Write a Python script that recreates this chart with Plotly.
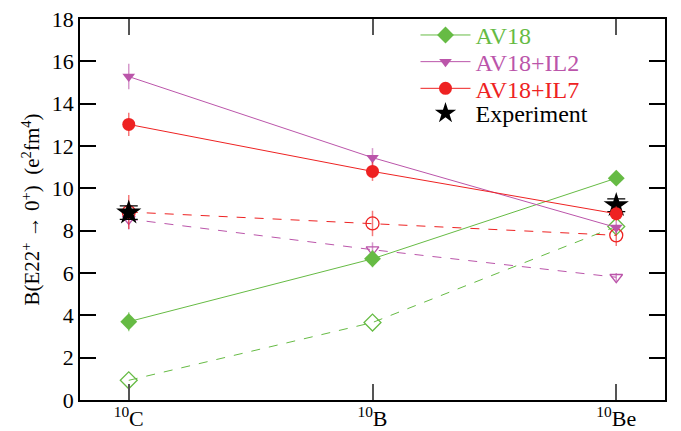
import plotly.graph_objects as go

nuclei = ["<sup>10</sup>C", "<sup>10</sup>B", "<sup>10</sup>Be"]
xpos = [0, 1, 2]

av18 = [3.7, 6.67, 10.48]
av18_err = [0.45, 0.4, 0.3]
av18_d = [0.93, 3.66, 8.2]

il2 = [15.28, 11.45, 8.15]
il2_err = [0.6, 0.45, 0.3]
il2_d = [8.55, 7.1, 5.8]
il2_d_err = [0.5, 0.35, 0.2]

il7 = [13.02, 10.8, 8.8]
il7_err = [0.55, 0.45, 0.35]
il7_d = [8.88, 8.34, 7.78]
il7_d_err = [0.8, 0.6, 0.5]

exp_x = [0, 2]
exp_y = [8.85, 9.2]
exp_err = [0.32, 0.3]

GREEN = "#66bb44"
PURPLE = "#bb55aa"
RED = "#ee2222"

fig = go.Figure()

def err(vals, color):
    return dict(type="data", array=vals, visible=True, color=color, thickness=1.5, width=0)

# dashed (hollow) series
fig.add_trace(go.Scatter(x=xpos, y=av18_d, mode="lines+markers", showlegend=False,
    line=dict(color=GREEN, width=1, dash="dash"),
    marker=dict(symbol="diamond-open", size=13, color=GREEN, line=dict(width=1.3))))
fig.add_trace(go.Scatter(x=xpos, y=il2_d, mode="lines+markers", showlegend=False,
    line=dict(color=PURPLE, width=1, dash="dash"),
    error_y=err(il2_d_err, "rgba(187,85,170,0.6)"),
    marker=dict(symbol="triangle-down-open", size=11, color=PURPLE, line=dict(width=1.3))))
fig.add_trace(go.Scatter(x=xpos, y=il7_d, mode="lines+markers", showlegend=False,
    line=dict(color=RED, width=1, dash="dash"),
    error_y=err(il7_d_err, "rgba(238,34,34,0.6)"),
    marker=dict(symbol="circle-open", size=13, color=RED, line=dict(width=1.3))))

# experiment
fig.add_trace(go.Scatter(x=exp_x, y=exp_y, mode="markers", name="Experiment", legend="legend4",
    error_y=dict(type="data", array=exp_err, visible=True, color="black", thickness=1.2, width=9),
    marker=dict(symbol="star", size=19, color="black")))

# solid series
fig.add_trace(go.Scatter(x=xpos, y=av18, mode="lines+markers",
    name="<span style='color:#66bb44'>AV18</span>", legend="legend",
    line=dict(color=GREEN, width=1),
    error_y=err(av18_err, "rgba(102,187,68,0.6)"),
    marker=dict(symbol="diamond", size=13, color=GREEN)))
fig.add_trace(go.Scatter(x=xpos, y=il2, mode="lines+markers",
    name="<span style='color:#bb55aa'>AV18+IL2</span>", legend="legend2",
    line=dict(color=PURPLE, width=1),
    error_y=err(il2_err, "rgba(187,85,170,0.6)"),
    marker=dict(symbol="triangle-down", size=11, color=PURPLE)))
fig.add_trace(go.Scatter(x=xpos, y=il7, mode="lines+markers",
    name="<span style='color:#ee2222'>AV18+IL7</span>", legend="legend3",
    line=dict(color=RED, width=1),
    error_y=err(il7_err, "rgba(238,34,34,0.6)"),
    marker=dict(symbol="circle", size=13, color=RED)))

FONT = "Liberation Serif, Times New Roman, serif"

def leg(yc):
    return dict(x=0.5735, y=yc, xanchor="left", yanchor="middle",
                bgcolor="rgba(0,0,0,0)", font=dict(size=24, family=FONT),
                itemwidth=50)

fig.update_layout(
    width=681, height=431,
    margin=dict(l=72, r=24, t=5, b=39),
    paper_bgcolor="white", plot_bgcolor="white",
    font=dict(family=FONT, size=22, color="black"),
    legend=leg(0.957), legend2=leg(0.887), legend3=leg(0.817), legend4=leg(0.752),
    showlegend=True,
)
fig.update_xaxes(range=[-0.2, 2.2], tickvals=xpos, ticktext=nuclei, automargin=False,
    ticks="inside", ticklen=16, tickcolor="#555", tickwidth=1.5,
    showline=True, linecolor="black", linewidth=1.5, mirror="ticks",
    ticklabelstandoff=-2, ticklabeloverflow="allow",
    showgrid=False, zeroline=False, tickfont=dict(size=22, family=FONT))
fig.update_yaxes(range=[0, 18], dtick=2, automargin=False,
    ticks="inside", ticklen=16, tickcolor="black", tickwidth=1.5,
    showline=True, linecolor="black", linewidth=1.5, mirror="ticks",
    ticklabeloverflow="allow",
    showgrid=False, zeroline=False, tickfont=dict(size=22, family=FONT),
    title=dict(text="B(E22<sup>+</sup> → 0<sup>+</sup>)  (e<sup>2</sup>fm<sup>4</sup>)",
               font=dict(size=21, family=FONT), standoff=6))

fig.write_html("out.html")
